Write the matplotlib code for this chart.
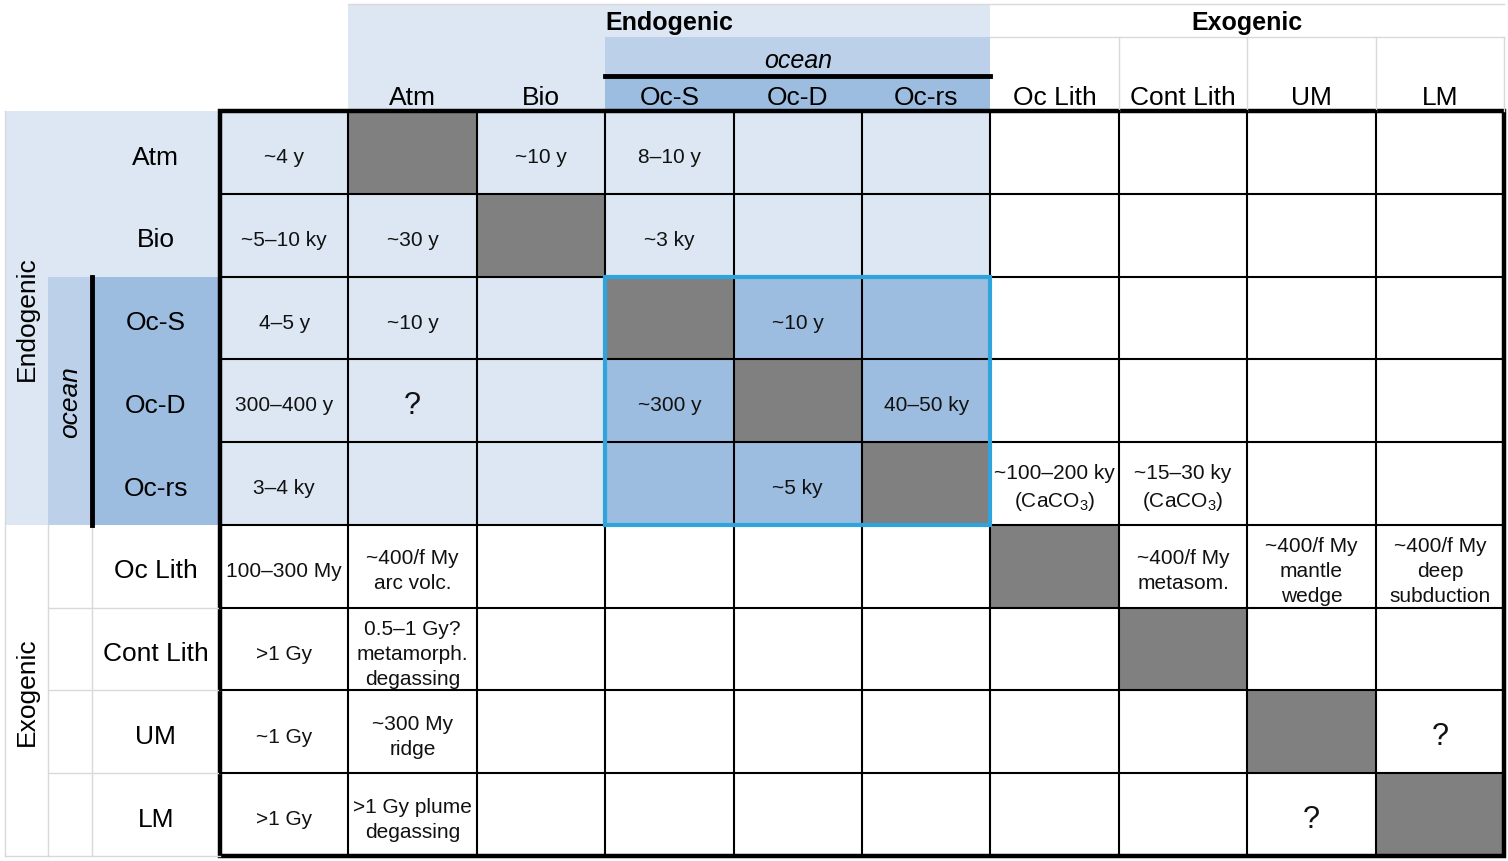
import matplotlib.pyplot as plt
import matplotlib.patches as mpatches

plt.rcParams['font.family'] = ['Liberation Sans', 'DejaVu Sans']
plt.rcParams['mathtext.fontset'] = 'custom'
plt.rcParams['mathtext.rm'] = 'Liberation Sans'

# reservoirs (rows) and the columns of the matrix
row_labels = ["Atm", "Bio", "Oc-S", "Oc-D", "Oc-rs", "Oc Lith", "Cont Lith", "UM", "LM"]
col_labels = ["", "Atm", "Bio", "Oc-S", "Oc-D", "Oc-rs", "Oc Lith", "Cont Lith", "UM", "LM"]
group_labels = ["Endogenic", "Exogenic"]
n_endo = 5          # first 5 reservoirs are endogenic
ocean_rows = [2, 3, 4]

cells = [
    ["~4 y", "", "~10 y", "8\u201310 y", "", "", "", "", "", ""],
    ["~5\u201310 ky", "~30 y", "", "~3 ky", "", "", "", "", "", ""],
    ["4\u20135 y", "~10 y", "", "", "~10 y", "", "", "", "", ""],
    ["300\u2013400 y", "?", "", "~300 y", "", "40\u201350 ky", "", "", "", ""],
    ["3\u20134 ky", "", "", "", "~5 ky", "", "~100\u2013200 ky\n(CaCO$_3$)",
     "~15\u201330 ky\n(CaCO$_3$)", "", ""],
    ["100\u2013300 My", "~400/f My\narc volc.", "", "", "", "", "",
     "~400/f My\nmetasom.", "~400/f My\nmantle\nwedge", "~400/f My\ndeep\nsubduction"],
    [">1 Gy", "0.5\u20131 Gy?\nmetamorph.\ndegassing", "", "", "", "", "", "", "", ""],
    ["~1 Gy", "~300 My\nridge", "", "", "", "", "", "", "", "?"],
    [">1 Gy", ">1 Gy plume\ndegassing", "", "", "", "", "", "", "?", ""],
]

light = "#dce7f3"
mid = "#bcd1e9"
dark = "#9dbde0"
gray = "#808080"
cyan = "#2ea3dc"
faint = "#d9d9d9"

nr, nc = len(row_labels), len(col_labels)

# header geometry in cell units
y_top, y_oc, y_col = -1.29, -0.89, -0.42
x_edge, x_oc = -1.675, -1.34
dy = 0.05   # text sits a little below the cell centre

fig = plt.figure(figsize=(15.08, 8.62), dpi=100)
ax = fig.add_axes([0, 0, 1, 1])
ax.set_xlim(-1.713, nc + 0.031)
ax.set_ylim(nr + 0.06, -1.353)
ax.axis("off")

# header backgrounds
ax.add_patch(mpatches.Rectangle((1, y_top), n_endo, -y_top, fc=light, ec="none"))
ax.add_patch(mpatches.Rectangle((ocean_rows[0] + 1, y_oc), len(ocean_rows), y_col - y_oc, fc=mid, ec="none"))
ax.add_patch(mpatches.Rectangle((ocean_rows[0] + 1, y_col), len(ocean_rows), -y_col, fc=dark, ec="none"))
ax.add_patch(mpatches.Rectangle((x_edge, 0), -x_edge, n_endo, fc=light, ec="none"))
ax.add_patch(mpatches.Rectangle((x_oc, ocean_rows[0]), -1 - x_oc, len(ocean_rows), fc=mid, ec="none"))
ax.add_patch(mpatches.Rectangle((-1, ocean_rows[0]), 1, len(ocean_rows), fc=dark, ec="none"))

# faint header grid
ax.plot([1, nc], [y_top, y_top], color=faint, lw=1)
ax.plot([n_endo + 1, nc], [y_oc, y_oc], color=faint, lw=1)
for j in range(n_endo + 2, nc + 1):
    ax.plot([j, j], [y_oc, 0], color=faint, lw=1)
ax.plot([x_edge, x_edge], [0, nr], color=faint, lw=1)
for xx in [x_oc, -1]:
    ax.plot([xx, xx], [n_endo, nr], color=faint, lw=1)
for i in range(n_endo + 1, nr + 1):
    ax.plot([x_oc, 0], [i, i], color=faint, lw=1)
ax.plot([x_edge, x_oc], [nr, nr], color=faint, lw=1)

# matrix cells
for i in range(nr):
    for j in range(nc):
        fc = "white"
        if i < n_endo and j <= n_endo:
            fc = light
        if i in ocean_rows and (j - 1) in ocean_rows:
            fc = dark
        if j == i + 1:
            fc = gray
        ax.add_patch(mpatches.Rectangle((j, i), 1, 1, fc=fc, ec="none"))
        txt = cells[i][j]
        if txt:
            big = txt == "?"
            ax.text(j + 0.5, i + 0.5 + dy, txt, ha="center", va="center",
                    fontsize=22 if big else 15, linespacing=1.4, color="#111111")

# grid lines
for j in range(1, nc):
    ax.plot([j, j], [0, nr], color="black", lw=1.5)
for i in range(1, nr):
    ax.plot([0, nc], [i, i], color="black", lw=1.5)
ax.add_patch(mpatches.Rectangle((0, 0), nc, nr, fill=False, ec="black", lw=3.2))
ax.add_patch(mpatches.Rectangle((ocean_rows[0] + 1, ocean_rows[0]), len(ocean_rows), len(ocean_rows),
                                fill=False, ec=cyan, lw=3, zorder=5))
ax.plot([ocean_rows[0] + 1, ocean_rows[-1] + 2], [y_col, y_col], color="black", lw=3.5)
ax.plot([-1, -1], [ocean_rows[0], ocean_rows[-1] + 1], color="black", lw=3.5)

# labels
for j, lab in enumerate(col_labels):
    ax.text(j + 0.5, -0.17, lab, ha="center", va="center", fontsize=19)
for i, lab in enumerate(row_labels):
    ax.text(-0.5, i + 0.5 + dy, lab, ha="center", va="center", fontsize=19)

ax.text(1 + n_endo / 2, (y_top + y_oc) / 2 + 0.02, group_labels[0], ha="center", va="center",
        fontsize=18, fontweight="bold")
ax.text((n_endo + 1 + nc) / 2, (y_top + y_oc) / 2 + 0.02, group_labels[1], ha="center", va="center",
        fontsize=18, fontweight="bold")
ax.text(ocean_rows[0] + 1 + len(ocean_rows) / 2, (y_oc + y_col) / 2 + 0.04, "ocean",
        ha="center", va="center", fontsize=18, style="italic")

ax.text((x_edge + x_oc) / 2, n_endo / 2, group_labels[0], ha="center", va="center",
        fontsize=19, rotation=90)
ax.text((x_edge + x_oc) / 2, (n_endo + nr) / 2, group_labels[1], ha="center", va="center",
        fontsize=19, rotation=90)
ax.text((x_oc - 1) / 2, ocean_rows[1] + 0.5, "ocean", ha="center", va="center",
        fontsize=19, rotation=90, style="italic")

fig.savefig("out.png", dpi=100)
